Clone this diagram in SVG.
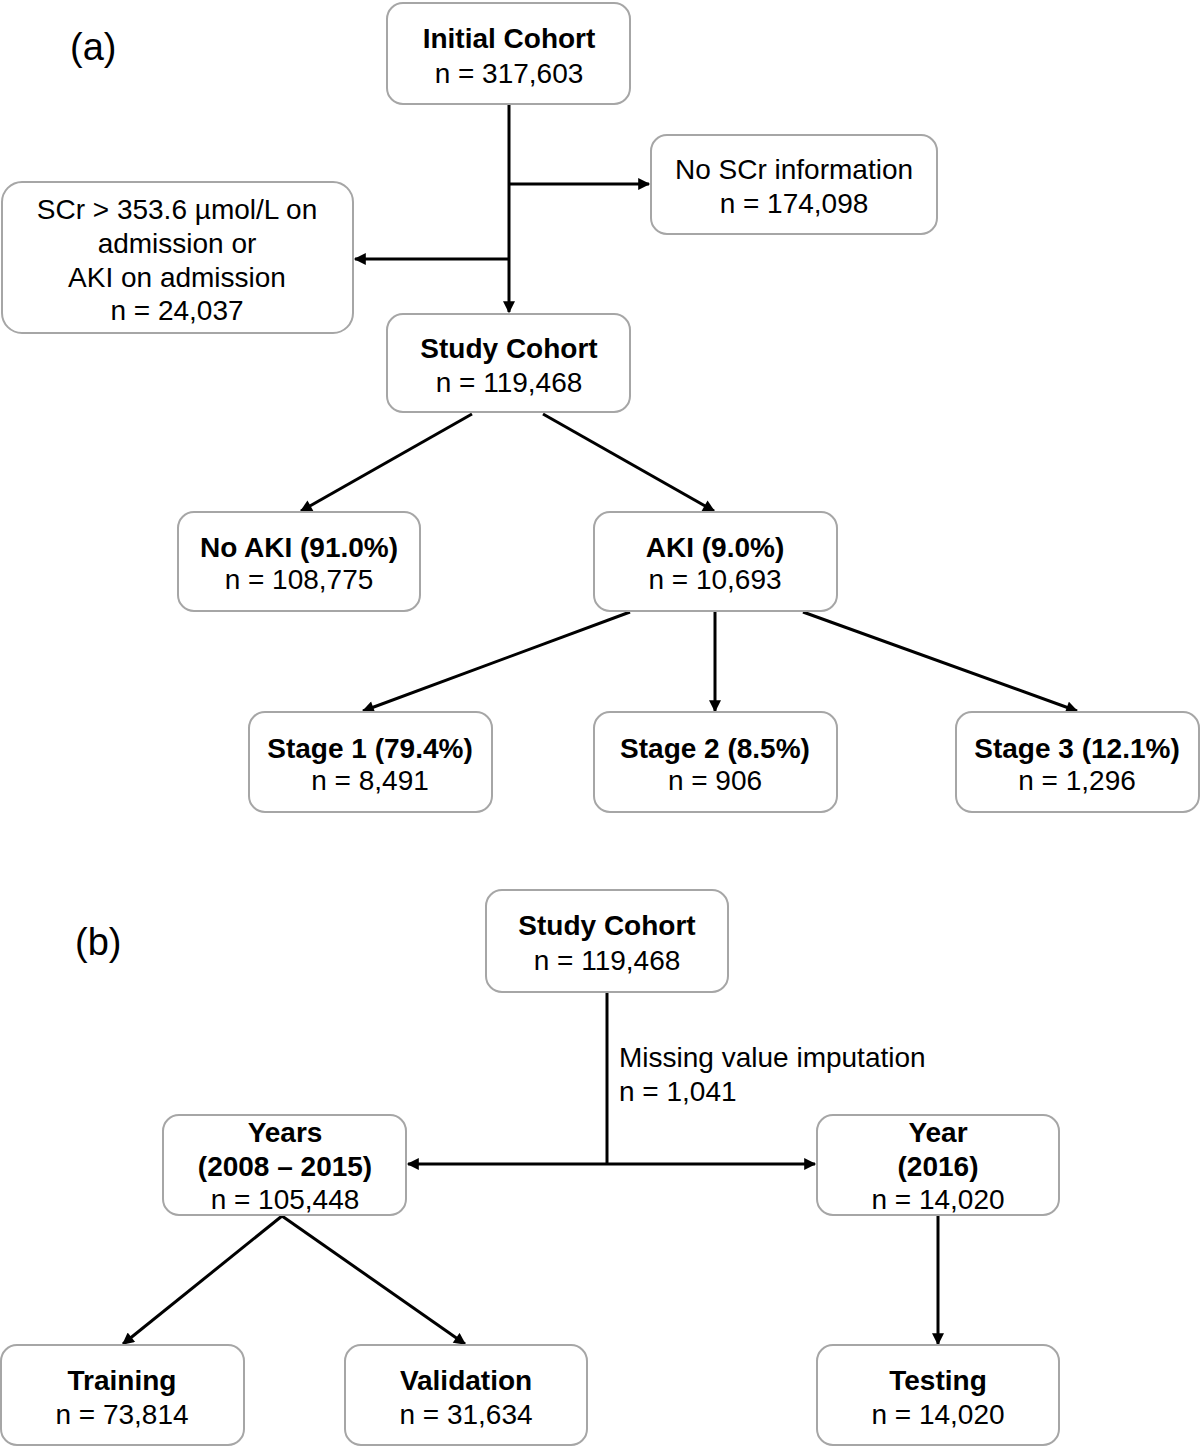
<svg xmlns="http://www.w3.org/2000/svg" width="1200" height="1447" viewBox="0 0 1200 1447">
<style>
.box{fill:#fff;stroke:#a6a6a6;stroke-width:2}
text{font-family:"Liberation Sans",Arial,sans-serif;font-size:28px;fill:#000}
.c{text-anchor:middle}
.b{font-weight:bold}
.lbl{font-size:38px}
.edge{stroke:#000;stroke-width:3;fill:none}
</style>
<defs>
<marker id="ah" viewBox="0 0 10 10" refX="9" refY="5" markerWidth="4.4" markerHeight="4" orient="auto-start-reverse" markerUnits="strokeWidth">
<path d="M0,0 L10,5 L0,10 z" fill="#000"/>
</marker>
</defs>
<rect width="1200" height="1447" fill="#fff"/>
<text class="lbl" x="70" y="60">(a)</text>
<text class="lbl" x="75" y="955">(b)</text>
<g id="connectors">
<line class="edge" x1="509" y1="104" x2="509" y2="312" marker-end="url(#ah)"/>
<line class="edge" x1="509" y1="184" x2="649" y2="184" marker-end="url(#ah)"/>
<line class="edge" x1="509" y1="259" x2="355" y2="259" marker-end="url(#ah)"/>
<line class="edge" x1="472" y1="414" x2="301" y2="511" marker-end="url(#ah)"/>
<line class="edge" x1="543" y1="414" x2="714" y2="511" marker-end="url(#ah)"/>
<line class="edge" x1="630" y1="612" x2="363" y2="711" marker-end="url(#ah)"/>
<line class="edge" x1="715" y1="612" x2="715" y2="711" marker-end="url(#ah)"/>
<line class="edge" x1="803" y1="612" x2="1077" y2="711" marker-end="url(#ah)"/>
<line class="edge" x1="607" y1="992" x2="607" y2="1164"/>
<line class="edge" x1="408" y1="1164" x2="815" y2="1164" marker-start="url(#ah)" marker-end="url(#ah)"/>
<line class="edge" x1="282" y1="1216" x2="123" y2="1344" marker-end="url(#ah)"/>
<line class="edge" x1="282" y1="1216" x2="465" y2="1344" marker-end="url(#ah)"/>
<line class="edge" x1="938" y1="1216" x2="938" y2="1344" marker-end="url(#ah)"/>
<text x="619" y="1067">Missing value imputation</text>
<text x="619" y="1101">n = 1,041</text>
</g>
<g id="initial"><rect class="box" x="387" y="3" width="243" height="101" rx="16"/>
<text class="c b" x="509" y="48">Initial Cohort</text><text class="c" x="509" y="83">n = 317,603</text></g>
<g id="noscr"><rect class="box" x="651" y="135" width="286" height="99" rx="16"/>
<text class="c" x="794" y="179">No SCr information</text><text class="c" x="794" y="213">n = 174,098</text></g>
<g id="scr"><rect class="box" x="2" y="182" width="351" height="151" rx="20"/>
<text class="c" x="177" y="219">SCr &gt; 353.6 µmol/L on</text><text class="c" x="177" y="253">admission or</text><text class="c" x="177" y="287">AKI on admission</text><text class="c" x="177" y="320">n = 24,037</text></g>
<g id="study"><rect class="box" x="387" y="314" width="243" height="98" rx="16"/>
<text class="c b" x="509" y="358">Study Cohort</text><text class="c" x="509" y="392">n = 119,468</text></g>
<g id="noaki"><rect class="box" x="178" y="512" width="242" height="99" rx="16"/>
<text class="c b" x="299" y="557">No AKI (91.0%)</text><text class="c" x="299" y="589">n = 108,775</text></g>
<g id="aki"><rect class="box" x="594" y="512" width="243" height="99" rx="16"/>
<text class="c b" x="715" y="557">AKI (9.0%)</text><text class="c" x="715" y="589">n = 10,693</text></g>
<g id="stage1"><rect class="box" x="249" y="712" width="243" height="100" rx="16"/>
<text class="c b" x="370" y="758">Stage 1 (79.4%)</text><text class="c" x="370" y="790">n = 8,491</text></g>
<g id="stage2"><rect class="box" x="594" y="712" width="243" height="100" rx="16"/>
<text class="c b" x="715" y="758">Stage 2 (8.5%)</text><text class="c" x="715" y="790">n = 906</text></g>
<g id="stage3"><rect class="box" x="956" y="712" width="243" height="100" rx="16"/>
<text class="c b" x="1077" y="758">Stage 3 (12.1%)</text><text class="c" x="1077" y="790">n = 1,296</text></g>
<g id="studyb"><rect class="box" x="486" y="890" width="242" height="102" rx="16"/>
<text class="c b" x="607" y="935">Study Cohort</text><text class="c" x="607" y="970">n = 119,468</text></g>
<g id="years"><rect class="box" x="163" y="1115" width="243" height="100" rx="16"/>
<text class="c b" x="285" y="1142">Years</text><text class="c b" x="285" y="1176">(2008 – 2015)</text><text class="c" x="285" y="1209">n = 105,448</text></g>
<g id="year"><rect class="box" x="817" y="1115" width="242" height="100" rx="16"/>
<text class="c b" x="938" y="1142">Year</text><text class="c b" x="938" y="1176">(2016)</text><text class="c" x="938" y="1209">n = 14,020</text></g>
<g id="training"><rect class="box" x="1" y="1345" width="243" height="100" rx="16"/>
<text class="c b" x="122" y="1390">Training</text><text class="c" x="122" y="1424">n = 73,814</text></g>
<g id="validation"><rect class="box" x="345" y="1345" width="242" height="100" rx="16"/>
<text class="c b" x="466" y="1390">Validation</text><text class="c" x="466" y="1424">n = 31,634</text></g>
<g id="testing"><rect class="box" x="817" y="1345" width="242" height="100" rx="16"/>
<text class="c b" x="938" y="1390">Testing</text><text class="c" x="938" y="1424">n = 14,020</text></g>
</svg>
